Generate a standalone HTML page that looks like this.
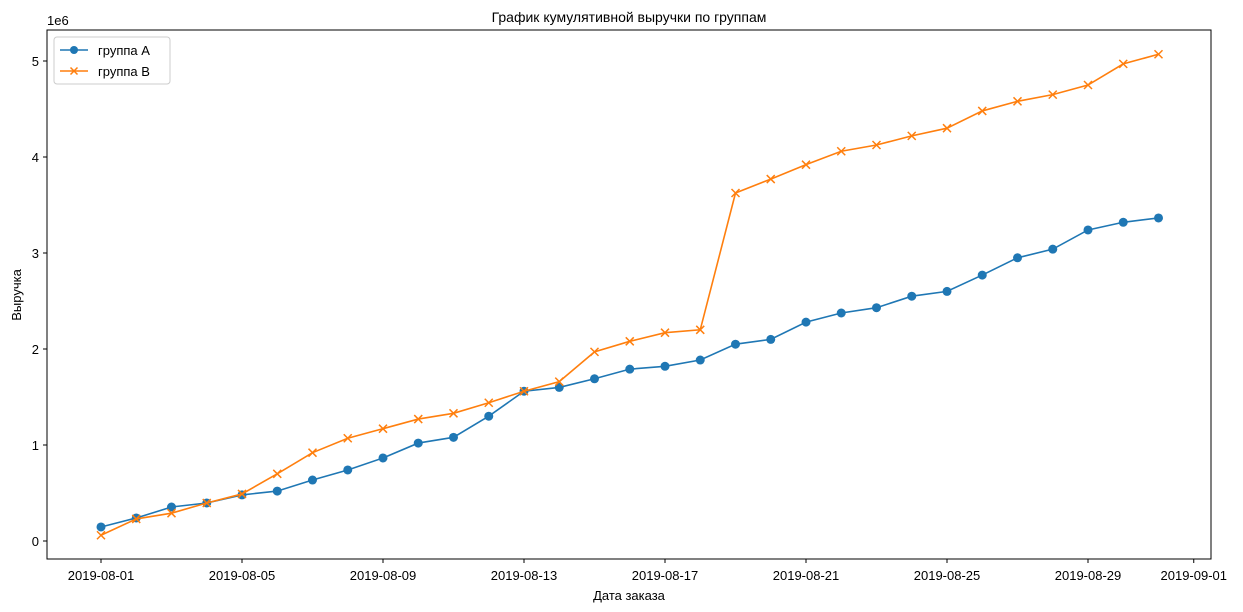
<!DOCTYPE html>
<html><head><meta charset="utf-8">
<style>
html,body{margin:0;padding:0;background:#fff;}
svg{display:block;font-family:"Liberation Sans","DejaVu Sans",sans-serif;}
</style></head>
<body>
<svg id="chart" width="1243" height="612" viewBox="0 0 1243 612" xmlns="http://www.w3.org/2000/svg">
<text x="629" y="22" text-anchor="middle" font-size="14">График кумулятивной выручки по группам</text>
<rect x="47" y="30" width="1164" height="529" fill="none" stroke="#000" stroke-width="1"/>
<g id="yticks"></g>
<g id="xticks"></g>
<text x="47" y="25" font-size="13">1e6</text>
<text x="629" y="600" text-anchor="middle" font-size="13">Дата заказа</text>
<text x="21" y="295" text-anchor="middle" font-size="13" transform="rotate(-90 21 295)">Выручка</text>
<g id="series"></g>
<g>
<rect x="54" y="37" width="116" height="47" rx="3" fill="#fff" stroke="#ccc"/>
<g>
<line x1="60" y1="50" x2="88" y2="50" stroke="#1f77b4" stroke-width="1.5"/>
<circle cx="74" cy="50" r="4" fill="#1f77b4"/>
<text x="98" y="55" font-size="13">группа A</text></g>
<g>
<line x1="60" y1="71" x2="88" y2="71" stroke="#ff7f0e" stroke-width="1.5"/>
<path d="M70.5 67.5 L77.5 74.5 M77.5 67.5 L70.5 74.5" stroke="#ff7f0e" stroke-width="1.5"/>
<text x="98" y="76" font-size="13">группа B</text></g>
</g>
</svg>
<script>
const days = Array.from({length:31},(_,i)=>i+1);
const seriesA = [0.146,0.24,0.354,0.396,0.48,0.52,0.635,0.74,0.865,1.02,1.08,1.30,1.56,1.60,1.69,1.79,1.82,1.885,2.05,2.10,2.28,2.375,2.43,2.55,2.60,2.77,2.95,3.04,3.24,3.32,3.365];
const seriesB = [0.06,0.23,0.29,0.396,0.49,0.70,0.92,1.07,1.17,1.27,1.33,1.44,1.56,1.66,1.97,2.08,2.17,2.20,3.625,3.77,3.92,4.06,4.125,4.22,4.30,4.48,4.58,4.65,4.75,4.97,5.07];
const yTicks = [0,1,2,3,4,5];
const xTickDays = [1,5,9,13,17,21,25,29,32];
const xTickLabels = ["2019-08-01","2019-08-05","2019-08-09","2019-08-13","2019-08-17","2019-08-21","2019-08-25","2019-08-29","2019-09-01"];

const NS="http://www.w3.org/2000/svg";
const xs = d => 101 + (d-1)*35.25;
const ys = v => 541 - v*96;
function mk(tag, attrs, parent){const e=document.createElementNS(NS,tag);for(const k in attrs)e.setAttribute(k,attrs[k]);parent.appendChild(e);return e;}
const yg=document.getElementById('yticks');
yTicks.forEach(t=>{
  const g=mk('g',{},yg);
  
  
  mk('line',{x1:43,x2:47,y1:ys(t),y2:ys(t),stroke:'#000'},g);
  const tx=mk('text',{x:39,y:ys(t)+5,'text-anchor':'end','font-size':13},g);tx.textContent=t;
});
const xg=document.getElementById('xticks');
xTickDays.forEach((d,i)=>{
  const g=mk('g',{},xg);
  
  
  mk('line',{x1:xs(d),x2:xs(d),y1:559,y2:563,stroke:'#000'},g);
  const tx=mk('text',{x:xs(d),y:580,'text-anchor':'middle','font-size':13},g);tx.textContent=xTickLabels[i];
});
const sg=document.getElementById('series');
function drawSeries(vals,color,marker,name){
  const g=mk('g',{},sg);
  
  
  mk('polyline',{points:vals.map((v,i)=>xs(days[i])+','+ys(v)).join(' '),fill:'none',stroke:color,'stroke-width':1.6},g);
  vals.forEach((v,i)=>{
    const x=xs(days[i]),y=ys(v);
    let m;
    if(marker==='o') m=mk('circle',{cx:x,cy:y,r:4.5,fill:color},g);
    else m=mk('path',{d:`M${x-4} ${y-4} L${x+4} ${y+4} M${x+4} ${y-4} L${x-4} ${y+4}`,stroke:color,'stroke-width':1.5},g);
    
    
  });
}
drawSeries(seriesA,'#1f77b4','o','series-group-a');
drawSeries(seriesB,'#ff7f0e','x','series-group-b');
</script>
</body></html>
